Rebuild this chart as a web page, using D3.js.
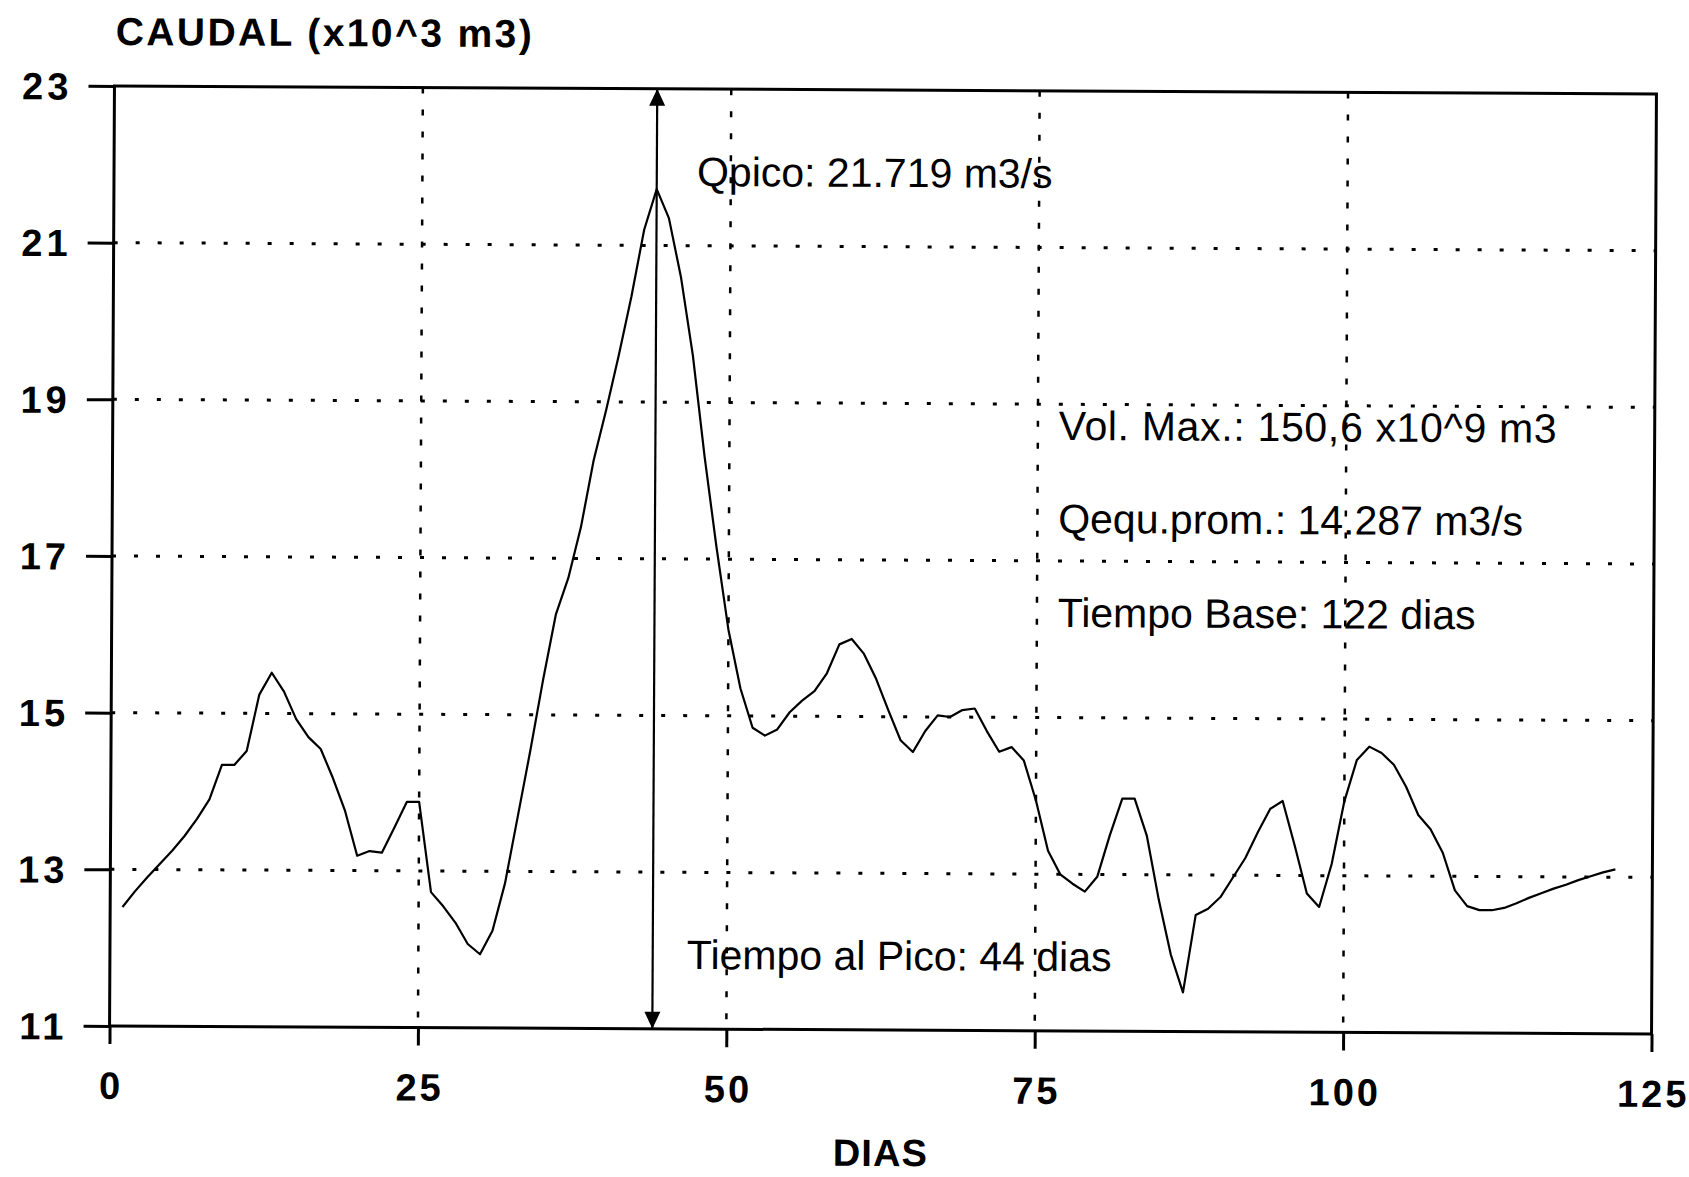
<!DOCTYPE html>
<html><head><meta charset="utf-8">
<script src="https://cdn.jsdelivr.net/npm/d3@7"></script>
<style>
body{margin:0;background:#fff}
svg{display:block}
</style>
</head><body>
<svg id="c" width="1689" height="1177"></svg>
<script>
// Caudal diario (dias 1..122)
const caudal = [
 12.52,12.72,12.90,13.07,13.24,13.43,13.65,13.90,14.34,14.34,
 14.52,15.24,15.52,15.28,14.93,14.70,14.55,14.18,13.76,13.19,
 13.25,13.23,13.55,13.88,13.88,12.73,12.55,12.34,12.07,11.94,
 12.24,12.85,13.70,14.55,15.45,16.28,16.75,17.40,18.25,18.90,
 19.60,20.35,21.20,21.72,21.35,20.60,19.60,18.30,17.15,16.10,
 15.35,14.85,14.75,14.83,15.05,15.20,15.32,15.55,15.92,15.99,
 15.80,15.48,15.08,14.70,14.55,14.82,15.02,15.00,15.09,15.11,
 14.82,14.56,14.62,14.45,13.94,13.30,13.00,12.88,12.78,12.97,
 13.50,13.97,13.97,13.50,12.68,11.98,11.50,12.49,12.57,12.72,
 12.97,13.22,13.55,13.85,13.95,13.38,12.77,12.60,13.15,13.95,
 14.48,14.65,14.57,14.42,14.14,13.78,13.60,13.30,12.82,12.62,
 12.57,12.57,12.60,12.66,12.73,12.79,12.85,12.90,12.96,13.01,
 13.06,13.10
];
const firstDay = 1;
const xTicks = [0, 25, 50, 75, 100, 125];
const yTicks = [11, 13, 15, 17, 19, 21, 23];
const xGrid = [25, 50, 75, 100];
const yGrid = [13, 15, 17, 19, 21];
const xDomain = [0, 125];
const yDomain = [11, 23];
const peakDay = 44;
const yTitle = "CAUDAL (x10^3 m3)";
const xTitle = "DIAS";
const notes = [
  "Qpico: 21.719 m3/s",
  "Vol. Max.: 150,6 x10^9 m3",
  "Qequ.prom.: 14.287 m3/s",
  "Tiempo Base: 122 dias",
  "Tiempo al Pico: 44 dias"
];

const data = caudal.map((v, i) => ({day: firstDay + i, v}));

const L = 112, R = 1654, T = 90, B = 1030;
const svg = d3.select("#c");
const g = svg.append("g").attr("transform", "rotate(0.3, 883, 560)");

const x = d3.scaleLinear().domain(xDomain).range([L, R]);
const y = d3.scaleLinear().domain(yDomain).range([B, T]);

// grid
g.append("g").selectAll("line").data(yGrid).join("line")
  .attr("x1", L).attr("x2", R)
  .attr("y1", d => y(d)).attr("y2", d => y(d))
  .attr("stroke", "#000").attr("stroke-width", 3)
  .attr("stroke-dasharray", "4 18");
g.append("g").selectAll("line").data(xGrid).join("line")
  .attr("x1", d => x(d)).attr("x2", d => x(d))
  .attr("y1", T).attr("y2", B)
  .attr("stroke", "#000").attr("stroke-width", 2.5)
  .attr("stroke-dasharray", "6 16");

// axes
const fontTick = "'Liberation Sans', Arial, Helvetica, sans-serif";
const ya = g.append("g").attr("transform", `translate(${L},0)`)
  .call(d3.axisLeft(y).tickValues(yTicks).tickSize(26).tickPadding(16).tickFormat(d3.format("d")));
const xa = g.append("g").attr("transform", `translate(0,${B})`)
  .call(d3.axisBottom(x).tickValues(xTicks).tickSize(18).tickPadding(28).tickFormat(d3.format("d")));
[ya, xa].forEach(a => {
  a.select(".domain").remove();
  a.selectAll(".tick line").attr("stroke", "#000").attr("stroke-width", 3);
  a.selectAll(".tick text")
    .attr("fill", "#000")
    .style("font-family", fontTick)
    .style("font-weight", "bold")
    .style("font-size", "38px")
    .style("letter-spacing", "3px");
});
ya.selectAll(".tick text").attr("dy", "0.35em").attr("x", -42).style("letter-spacing", "4px");
xa.selectAll(".tick text").attr("dx", 1.5);

// frame
g.append("rect").attr("x", L).attr("y", T).attr("width", R - L).attr("height", B - T)
  .attr("fill", "none").attr("stroke", "#000").attr("stroke-width", 3);

// series
g.append("path").datum(data)
  .attr("fill", "none").attr("stroke", "#000").attr("stroke-width", 2.2)
  .attr("stroke-linejoin", "round")
  .attr("d", d3.line().x(d => x(d.day)).y(d => y(d.v)));

// peak arrow
const ax = x(peakDay);
g.append("line").attr("x1", ax).attr("x2", ax).attr("y1", y(yDomain[0])).attr("y2", y(yDomain[1]))
  .attr("stroke", "#000").attr("stroke-width", 2.2);
g.append("path").attr("fill", "#000")
  .attr("d", `M${ax},${y(yDomain[1])}l-8,17h16z M${ax},${y(yDomain[0])}l-8,-17h16z`);

// titles
g.append("text").attr("x", L + 1).attr("y", 49).text(yTitle)
  .attr("fill", "#000")
  .style("font-family", fontTick).style("font-weight", "bold").style("font-size", "39px")
  .attr("textLength", 416).attr("lengthAdjust", "spacing");
g.append("text").attr("x", (L + R) / 2).attr("y", 1166).attr("text-anchor", "middle").text(xTitle)
  .attr("fill", "#000")
  .style("font-family", fontTick).style("font-weight", "bold").style("font-size", "38px")
  .attr("textLength", 94).attr("lengthAdjust", "spacing");

// annotations
const notePos = [[695, 187], [1058, 439], [1058, 532], [1058, 626], [689, 970]];
const noteLen = [null, 498, null, null, null];
g.append("g").selectAll("text").data(notes).join("text")
  .attr("x", (d, i) => notePos[i][0]).attr("y", (d, i) => notePos[i][1])
  .text(d => d)
  .attr("fill", "#000")
  .attr("textLength", (d, i) => noteLen[i])
  .attr("lengthAdjust", "spacing")
  .style("font-family", fontTick).style("font-size", "41px");
</script>
</body></html>
